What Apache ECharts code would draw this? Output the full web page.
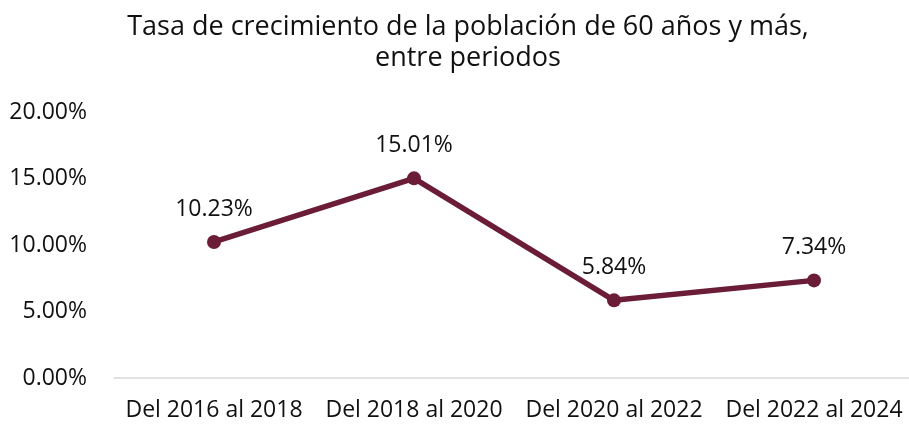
<!DOCTYPE html>
<html>
<head>
<meta charset="utf-8">
<script src="https://cdn.jsdelivr.net/npm/echarts@6/dist/echarts.min.js"></script>
<style>html,body{margin:0;padding:0;background:#fff}#c{width:909px;height:426px}</style>
</head>
<body>
<div id="c"></div>
<script>
const categories = ['Del 2016 al 2018', 'Del 2018 al 2020', 'Del 2020 al 2022', 'Del 2022 al 2024'];
const values = [10.23, 15.01, 5.84, 7.34];
const yTicks = [0, 5, 10, 15, 20];

const chart = echarts.init(document.getElementById('c'));
chart.setOption({
  animation: false,
  title: {
    text: 'Tasa de crecimiento de la población de 60 años y más,\nentre periodos',
    left: 463, textAlign: 'center', top: 7,
    textStyle: { fontFamily: 'Open Sans', fontSize: 27, fontWeight: 'normal', color: '#111', lineHeight: 31 }
  },
  grid: { left: 114, top: 112, width: 800, bottom: 48, containLabel: false, outerBoundsMode: 'none' },
  xAxis: {
    type: 'category', data: categories, boundaryGap: true,
    axisLine: { lineStyle: { color: '#d9d9d9', width: 1.5 } },
    axisTick: { show: false },
    axisLabel: { fontFamily: 'Open Sans', fontSize: 23, color: '#111', margin: 21, interval: 0, hideOverlap: false }
  },
  yAxis: {
    type: 'value', min: 0, max: 20, interval: 5,
    axisLine: { show: false }, axisTick: { show: false },
    splitLine: { show: false },
    axisLabel: { fontFamily: 'Open Sans', fontSize: 23, color: '#111', margin: 27,
      formatter: v => yTicks.includes(v) ? v.toFixed(2) + '%' : '' }
  },
  series: [{
    type: 'line', data: values,
    lineStyle: { color: '#6b1d38', width: 5.5 },
    itemStyle: { color: '#6b1d38' },
    symbol: 'circle', symbolSize: 14,
    label: { show: true, position: 'top', distance: 14, fontFamily: 'Open Sans', fontSize: 23, color: '#111',
      formatter: p => p.value.toFixed(2) + '%' }
  }]
});
</script>
</body>
</html>
